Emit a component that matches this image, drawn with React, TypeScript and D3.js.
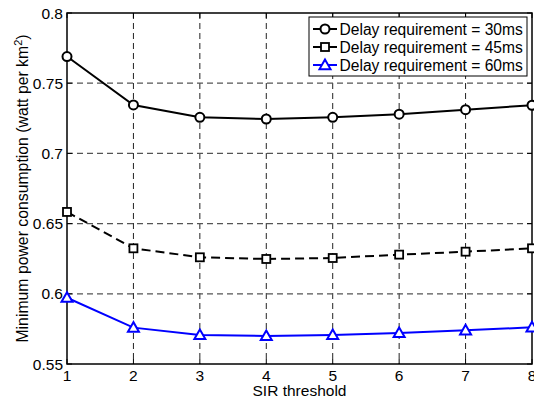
import React from "react";
import * as d3 from "d3";

const sirThresholds = [1, 2, 3, 4, 5, 6, 7, 8];
const delay30 = [0.769, 0.7345, 0.7257, 0.7245, 0.7257, 0.7279, 0.7311, 0.7343];
const delay45 = [0.6583, 0.6324, 0.626, 0.6248, 0.6255, 0.6279, 0.630, 0.6324];
const delay60 = [0.5972, 0.5759, 0.5707, 0.570, 0.5707, 0.5721, 0.574, 0.5761];
const yTicks = [0.55, 0.6, 0.65, 0.7, 0.75, 0.8];
const yTickLabels = ["0.55", "0.6", "0.65", "0.7", "0.75", "0.8"];
const seriesNames = [
  "Delay requirement = 30ms",
  "Delay requirement = 45ms",
  "Delay requirement = 60ms",
];

const W = 534;
const H = 400;
const M = { left: 67, right: 532, top: 13, bottom: 364 };
const FONT = "Liberation Sans, Arial, Helvetica, sans-serif";

export default function App() {
  const x = d3.scaleLinear().domain([1, 8]).range([M.left, M.right]);
  const y = d3.scaleLinear().domain([0.55, 0.8]).range([M.bottom, M.top]);
  const line = d3
    .line<number>()
    .x((_, i) => x(sirThresholds[i]))
    .y((d) => y(d));

  const series = [
    { name: seriesNames[0], data: delay30, color: "#000", dash: "none", marker: "circle" },
    { name: seriesNames[1], data: delay45, color: "#000", dash: "9,5", marker: "square" },
    { name: seriesNames[2], data: delay60, color: "#0000ff", dash: "none", marker: "triangle" },
  ];

  const marker = (kind: string, cx: number, cy: number, color: string, key: string) => {
    if (kind === "circle")
      return <circle key={key} cx={cx} cy={cy} r={4.5} fill="#fff" stroke={color} strokeWidth={2} />;
    if (kind === "square")
      return <rect key={key} x={cx - 4} y={cy - 4} width={8} height={8} fill="#fff" stroke={color} strokeWidth={1.8} />;
    const s = 5.5;
    const pts = `${cx},${cy - s} ${cx - s},${cy + s * 0.75} ${cx + s},${cy + s * 0.75}`;
    return <polygon key={key} points={pts} fill="#fff" stroke={color} strokeWidth={2} />;
  };

  const legendX = 309;
  const legendY = 17;
  const legendW = 218;
  const legendH = 59;

  return (
    <svg width={W} height={H} style={{ position: "absolute", left: 0, top: 0, background: "#fff" }} fontFamily={FONT}>
      <rect x={0} y={0} width={W} height={H} fill="#fff" />
      {/* grid */}
      {sirThresholds.slice(1, -1).map((t) => (
        <line key={"gx" + t} x1={x(t)} x2={x(t)} y1={M.top} y2={M.bottom} stroke="#222" strokeWidth={1} strokeDasharray="6,4" />
      ))}
      {yTicks.slice(1, -1).map((t) => (
        <line key={"gy" + t} x1={M.left} x2={M.right} y1={y(t)} y2={y(t)} stroke="#555" strokeWidth={1.3} strokeDasharray="6,4" />
      ))}
      {/* axes box */}
      <rect x={M.left} y={M.top} width={M.right - M.left} height={M.bottom - M.top} fill="none" stroke="#000" strokeWidth={1.5} />
      {/* ticks */}
      {sirThresholds.map((t) => (
        <g key={"tx" + t}>
          <line x1={x(t)} x2={x(t)} y1={M.bottom} y2={M.bottom - 5} stroke="#000" />
          <line x1={x(t)} x2={x(t)} y1={M.top} y2={M.top + 5} stroke="#000" />
          <text x={x(t)} y={M.bottom + 17} fontSize={15.5} textAnchor="middle" fill="#000">{t}</text>
        </g>
      ))}
      {yTicks.map((t, i) => (
        <g key={"ty" + t}>
          <line x1={M.left} x2={M.left + 5} y1={y(t)} y2={y(t)} stroke="#000" />
          <line x1={M.right} x2={M.right - 5} y1={y(t)} y2={y(t)} stroke="#000" />
          <text x={M.left - 4} y={y(t) + 5.5} fontSize={15.5} textAnchor="end" fill="#000">{yTickLabels[i]}</text>
        </g>
      ))}
      {/* labels */}
      <text x={(M.left + M.right) / 2} y={396} fontSize={15.5} textAnchor="middle" fill="#000">SIR threshold</text>
      <text transform={`translate(28,${(M.top + M.bottom) / 2}) rotate(-90)`} fontSize={15.8} textAnchor="middle" fill="#000">
        Minimum power consumption (watt per km<tspan dy={-6} fontSize={11}>2</tspan><tspan dy={6}>)</tspan>
      </text>
      {/* series */}
      {series.map((s) => (
        <g key={s.name}>
          <path d={line(s.data) || ""} fill="none" stroke={s.color} strokeWidth={2} strokeDasharray={s.dash} />
          {s.data.map((v, i) => marker(s.marker, x(sirThresholds[i]), y(v), s.color, s.name + i))}
        </g>
      ))}
      {/* legend */}
      <rect x={legendX} y={legendY} width={legendW} height={legendH} fill="#fff" stroke="#000" strokeWidth={1} />
      {series.map((s, i) => {
        const ly = legendY + 12 + i * 18;
        return (
          <g key={"lg" + i}>
            <line x1={legendX + 4} x2={legendX + 28} y1={ly} y2={ly} stroke={s.color} strokeWidth={2} />
            {marker(s.marker, legendX + 16, ly, s.color, "lm" + i)}
            <text x={legendX + 30.5} y={ly + 5.5} fontSize={15.6} fill="#000">{s.name}</text>
          </g>
        );
      })}
    </svg>
  );
}
